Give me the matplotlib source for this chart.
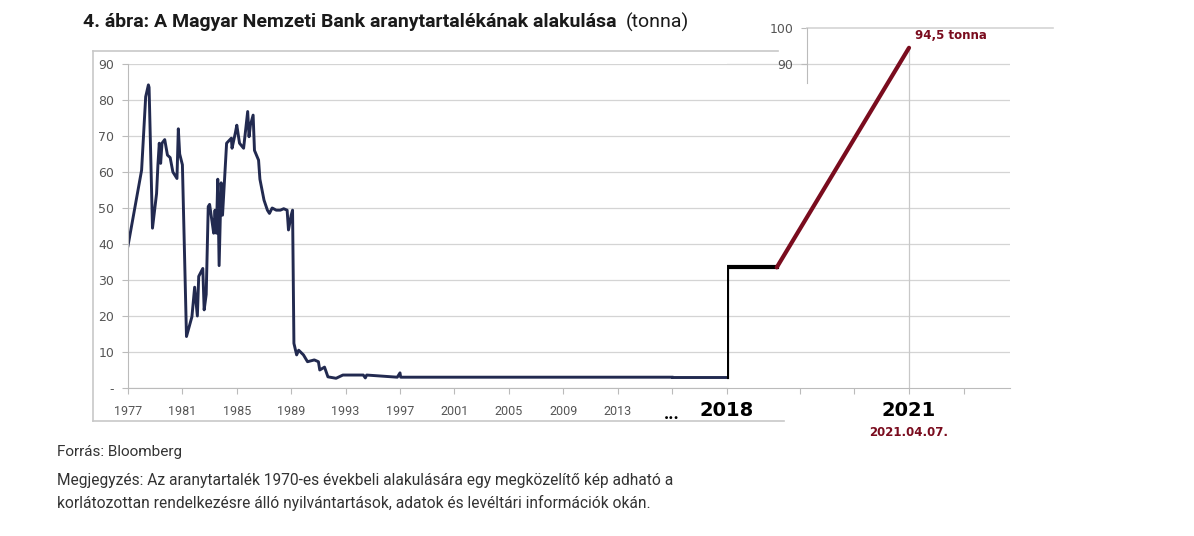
import matplotlib
matplotlib.use("Agg")
import matplotlib.pyplot as plt
from matplotlib.lines import Line2D

# --- data ---
years = [1977.0, 1978.0, 1978.3, 1978.5, 1978.55, 1978.8, 1979.1, 1979.2, 1979.3, 1979.4,
         1979.5, 1979.7, 1979.9, 1980.1, 1980.3, 1980.6, 1980.7, 1980.8, 1981.0, 1981.3,
         1981.7, 1981.9, 1982.1, 1982.2, 1982.5, 1982.6, 1982.75, 1982.9, 1983.0, 1983.2,
         1983.3, 1983.4, 1983.5, 1983.6, 1983.7, 1983.85, 1983.95, 1984.25, 1984.6, 1984.65,
         1984.9, 1985.0, 1985.2, 1985.5, 1985.8, 1985.9, 1986.0, 1986.2, 1986.3, 1986.6,
         1986.7, 1987.0, 1987.25, 1987.4, 1987.6, 1987.9, 1988.2, 1988.45, 1988.7, 1988.8,
         1989.0, 1989.1, 1989.2, 1989.4, 1989.55, 1989.9, 1990.2, 1990.7, 1991.0, 1991.1,
         1991.45, 1991.7, 1992.3, 1992.8, 1994.3, 1994.45, 1994.55, 1996.8, 1997.0, 1997.05,
         2017.0]
gold = [39.5, 60.5, 80.9, 84.2, 83.5, 44.4, 54.0, 62.0, 68.0, 62.4,
        68.0, 69.0, 64.7, 64.0, 60.0, 58.2, 72.0, 65.0, 62.0, 14.3,
        19.8, 28.0, 20.0, 31.0, 33.2, 21.7, 26.0, 50.4, 51.0, 45.7,
        43.0, 49.4, 43.0, 58.0, 34.0, 57.0, 48.0, 68.0, 69.4, 66.6,
        71.0, 73.0, 68.0, 66.6, 76.8, 69.8, 73.0, 75.8, 66.0, 63.3,
        58.0, 52.2, 49.4, 48.5, 50.0, 49.4, 49.4, 49.8, 49.4, 43.9,
        48.0, 49.4, 12.4, 9.2, 10.5, 9.2, 7.3, 7.8, 7.3, 5.0,
        5.8, 3.1, 2.7, 3.6, 3.6, 2.8, 3.6, 3.0, 4.2, 3.0,
        3.0]

step_x = [2018.0, 2018.0, 2018.82]
step_y = [3.0, 33.5, 33.5]
rise_x = [2018.82, 2021.0]
rise_y = [33.5, 94.5]

left_ticks = list(range(1977, 2018, 4))
left_labels = [str(y) for y in left_ticks[:-1]] + ["..."]

W, H = 1194, 536
NAVY = "#222a50"
RED = "#7a0c1e"
GRID = "#d4d4d4"
TXT = "#555555"
NARROW = ["Liberation Sans Narrow", "Roboto", "DejaVu Sans"]


def rect(x0, y0, x1, y1):
    return [x0 / W, 1 - y1 / H, (x1 - x0) / W, (y1 - y0) / H]


fig = plt.figure(figsize=(W / 100, H / 100), dpi=100)
fig.patch.set_facecolor("white")

# frame around the historical panel
for xs, ys in [((93, 778), (51, 51)), ((93, 93), (51, 421)), ((93, 784), (421, 421))]:
    fig.add_artist(Line2D([x / W for x in xs], [1 - y / H for y in ys],
                          color="#c8c8c8", lw=1.2))

# left: 1977 - 2017
ax = fig.add_axes(rect(128, 64, 727, 388))
ax.set_xlim(1977, 1977 + 599 / 13.6)
ax.set_ylim(0, 90)
ax.plot(years, gold, color=NAVY, lw=2.1, solid_joinstyle="round")
ax.plot([years[-1], ax.get_xlim()[1]], [gold[-1], gold[-1]], color=NAVY, lw=2.1)
ax.set_yticks(range(0, 91, 10))
ax.set_yticklabels(["-"] + [str(v) for v in range(10, 91, 10)])
ax.set_xticks(left_ticks)
ax.set_xticklabels(left_labels, family=NARROW)
ax.yaxis.grid(True, color=GRID, lw=0.9)
ax.set_axisbelow(True)
for s in ["top", "right"]:
    ax.spines[s].set_visible(False)
for s in ["left", "bottom"]:
    ax.spines[s].set_color("#bbbbbb")
ax.tick_params(axis="y", labelsize=9, colors="#bbbbbb", labelcolor=TXT, length=4, pad=6)
ax.tick_params(axis="x", labelsize=9, colors="#bbbbbb", labelcolor=TXT, length=4, pad=8)
dots = ax.xaxis.get_ticklabels()[-1]
dots.set_fontweight("bold")
dots.set_fontsize(13)
dots.set_color("black")
ax.patch.set_alpha(0)

# right: 2018 - 2021
ax2 = fig.add_axes(rect(727, 28, 1010, 388))
ax2.set_xlim(2018, 2018 + 283 / 60.67)
ax2.set_ylim(0, 100)
ax2.set_yticks(range(10, 91, 10))
ax2.set_yticklabels([])
ax2.yaxis.grid(True, color=GRID, lw=0.9)
ax2.tick_params(axis="y", length=0)
ax2.axvline(2021, ymax=94.5 / 100, color="#c8c8c8", lw=0.9)
ax2.plot(step_x, step_y, color="black", lw=3.0, solid_joinstyle="miter")
ax2.plot(rise_x, rise_y, color=RED, lw=3.0, solid_capstyle="round")
ax2.set_xticks([2018, 2019.2, 2020.1, 2021, 2021.9])
ax2.set_xticklabels(["2018", "", "", "2021", ""], fontsize=14, fontweight="bold")
ax2.tick_params(axis="x", colors="#bbbbbb", labelcolor="black", length=4, pad=5)
for s in ["top", "right", "left"]:
    ax2.spines[s].set_visible(False)
ax2.spines["bottom"].set_color("#bbbbbb")
ax2.patch.set_alpha(0)
ax2.text(rise_x[-1] + 0.1, rise_y[-1] + 1.5, "94,5 tonna", color=RED,
         fontsize=8.5, fontweight="bold", va="bottom", ha="left")
ax2.text(2021, -12.5, "2021.04.07.", color=RED, fontsize=8.5, fontweight="bold",
         ha="center", va="center", clip_on=False)

# inset scale 90-100
ax3 = fig.add_axes(rect(807, 28, 1053, 83))
ax3.set_ylim(100 - 55 / 3.6, 100)
ax3.set_xlim(0, 1)
ax3.set_yticks([90, 100])
ax3.axhline(100, color=GRID, lw=1.2, clip_on=False)
ax3.set_xticks([])
for s in ["top", "right", "bottom"]:
    ax3.spines[s].set_visible(False)
ax3.spines["left"].set_color("#bbbbbb")
ax3.tick_params(axis="y", labelsize=9, colors="#bbbbbb", labelcolor=TXT, length=4, pad=6)
ax3.patch.set_alpha(0)

# texts
fig.text(83 / W, 1 - 22 / H, "4. ábra: A Magyar Nemzeti Bank aranytartalékának alakulása",
         fontsize=14, fontweight="bold", color="#1a1a1a", va="center", family=NARROW)
fig.text(626 / W, 1 - 22 / H, "(tonna)", fontsize=14, color="#1a1a1a", va="center",
         family=NARROW)
fig.text(57 / W, 1 - 452 / H, "Forrás: Bloomberg", fontsize=11, color="#333333",
         va="center", family=NARROW)
fig.text(57 / W, 1 - 480 / H,
         "Megjegyzés: Az aranytartalék 1970-es évekbeli alakulására egy megközelítő kép adható a",
         fontsize=11.2, color="#333333", va="center", family=NARROW)
fig.text(57 / W, 1 - 503 / H,
         "korlátozottan rendelkezésre álló nyilvántartások, adatok és levéltári információk okán.",
         fontsize=11.2, color="#333333", va="center", family=NARROW)

fig.savefig("out.png", dpi=100, facecolor="white")
